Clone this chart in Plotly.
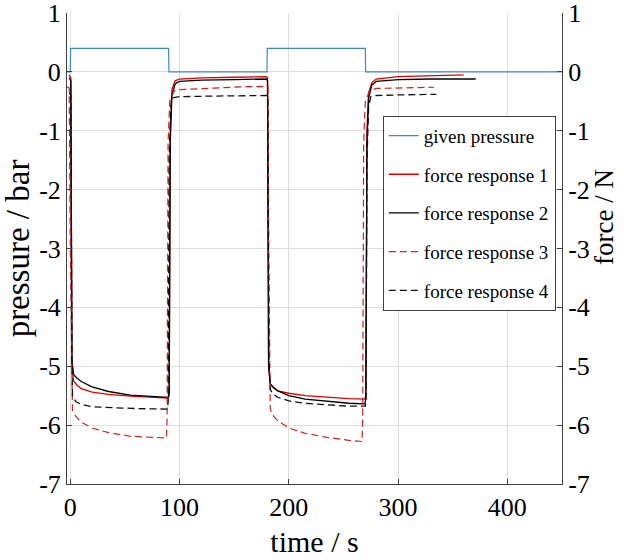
import plotly.graph_objects as go

# ---------------- data ----------------
t_pressure = [-3, 0, 0.3, 90, 90.3, 180, 180.3, 270, 270.3, 450]
given_pressure = [0, 0, 0.4, 0.4, 0, 0, 0.4, 0.4, 0, 0]

t_resp1 = [-1, 0.5, 1.5, 3, 6, 10, 20, 35, 55, 75, 89.5, 90.5, 91.5, 93, 96, 100, 120, 150,
           179.5, 180.5, 181.5, 183, 186, 190, 200, 215, 235, 255, 269.5, 270.5, 271.5, 273,
           276, 280, 300, 330, 360]
force_resp1 = [-0.05, -0.1, -5.0, -5.25, -5.32, -5.38, -5.44, -5.48, -5.51, -5.53, -5.54, -5.5,
               -1.0, -0.3, -0.15, -0.12, -0.1, -0.09, -0.08, -0.1, -5.0, -5.3, -5.37, -5.42,
               -5.46, -5.5, -5.53, -5.55, -5.56, -5.5, -1.0, -0.35, -0.18, -0.12, -0.08, -0.06,
               -0.05]

t_resp2 = [-1, 0.5, 1.5, 3, 6, 10, 20, 35, 55, 75, 89.5, 90.5, 91.5, 93, 96, 100, 120, 150,
           179.5, 180.5, 181.5, 183, 186, 190, 200, 215, 235, 255, 269.5, 270.5, 271.5, 273,
           276, 280, 300, 330, 371]
force_resp2 = [-0.1, -0.15, -4.9, -5.14, -5.2, -5.26, -5.35, -5.43, -5.49, -5.52, -5.53, -5.45,
               -1.2, -0.4, -0.2, -0.16, -0.14, -0.13, -0.12, -0.15, -5.0, -5.3, -5.36, -5.42,
               -5.5, -5.56, -5.6, -5.63, -5.64, -5.55, -1.2, -0.45, -0.22, -0.16, -0.13, -0.12,
               -0.12]

t_resp3 = [-3, -1, 0, 2, 5, 10, 20, 35, 55, 75, 88, 88.6, 89.5, 91, 95, 100, 130, 160,
           181, 181.6, 183, 186, 190, 200, 215, 235, 255, 267, 267.6, 268.5, 270, 274, 280,
           300, 333]
force_resp3 = [-0.25, -0.27, -3.0, -5.75, -5.85, -5.95, -6.05, -6.13, -6.19, -6.21, -6.22, -5.9,
               -1.2, -0.5, -0.32, -0.3, -0.27, -0.25, -0.25, -3.0, -5.73, -5.85, -5.93, -6.05,
               -6.14, -6.21, -6.26, -6.28, -5.9, -1.2, -0.5, -0.32, -0.28, -0.27, -0.26]

t_resp4 = [-1, 0.5, 1.5, 2, 5, 10, 20, 40, 60, 89, 89.6, 90.5, 92, 93, 100, 130, 160, 180,
           180.8, 181.8, 183, 186, 190, 200, 215, 235, 255, 270, 270.6, 271.5, 273, 275, 280,
           300, 335]
force_resp4 = [-0.35, -0.4, -4.8, -5.5, -5.6, -5.65, -5.69, -5.71, -5.72, -5.73, -5.6, -1.5,
               -0.6, -0.44, -0.42, -0.41, -0.4, -0.4, -0.42, -4.9, -5.4, -5.48, -5.53, -5.59,
               -5.63, -5.66, -5.68, -5.68, -5.6, -1.5, -0.6, -0.42, -0.4, -0.39, -0.38]

y_ticks = [1, 0, -1, -2, -3, -4, -5, -6, -7]
y_tick_labels = ["1", "0", "-1", "-2", "-3", "-4", "-5", "-6", "-7"]
x_ticks = [0, 100, 200, 300, 400]
x_tick_labels = ["0", "100", "200", "300", "400"]

# ---------------- figure ----------------
FONT = "Liberation Serif"
fig = go.Figure()

fig.add_trace(go.Scatter(x=t_pressure, y=given_pressure, mode="lines", name="given pressure",
                         line=dict(color="#3b8db8", width=1.2), legendgroup="g0"))
fig.add_trace(go.Scatter(x=t_resp1, y=force_resp1, mode="lines", name="force response 1",
                         line=dict(color="#e00000", width=1.3), yaxis="y2", legendgroup="g1"))
fig.add_trace(go.Scatter(x=t_resp2, y=force_resp2, mode="lines", name="force response 2",
                         line=dict(color="#000000", width=1.3), yaxis="y2", legendgroup="g2"))
fig.add_trace(go.Scatter(x=t_resp3, y=force_resp3, mode="lines", name="force response 3",
                         line=dict(color="#d42020", width=1.2, dash="7px,4px"), yaxis="y2",
                         legendgroup="g3"))
fig.add_trace(go.Scatter(x=t_resp4, y=force_resp4, mode="lines", name="force response 4",
                         line=dict(color="#111111", width=1.3, dash="7px,4px"), yaxis="y2",
                         legendgroup="g4"))

axis_common = dict(showline=True, linecolor="#404040", linewidth=1, ticks="inside", ticklen=5,
                   tickcolor="#404040", gridcolor="#dedede", gridwidth=1, zeroline=False,
                   automargin=False, ticklabeloverflow="allow",
                   tickfont=dict(family=FONT, size=26, color="#000000"))

fig.update_layout(
    width=630, height=560,
    margin=dict(l=67, r=68, t=13, b=76),
    paper_bgcolor="white", plot_bgcolor="white",
    font=dict(family=FONT, color="#000000"),
    showlegend=True,
    legend=dict(x=0.638, y=0.782, xanchor="left", yanchor="top",
                bgcolor="white", bordercolor="#404040", borderwidth=1,
                font=dict(family=FONT, size=19, color="#000000"),
                tracegroupgap=11, traceorder="grouped"),
    xaxis=dict(range=[-3, 450], tickvals=x_ticks, ticktext=x_tick_labels, showgrid=True,
               title=dict(text="time / s", font=dict(family=FONT, size=30), standoff=9),
               **axis_common),
    yaxis=dict(range=[-7.002, 1.002], tickvals=y_ticks, ticktext=y_tick_labels, showgrid=True,
               title=dict(text="pressure / bar", font=dict(family=FONT, size=33), standoff=4),
               **axis_common),
    yaxis2=dict(range=[-7.002, 1.002], tickvals=y_ticks, ticktext=y_tick_labels, showgrid=False,
                overlaying="y", side="right", **axis_common),
    annotations=[dict(text="force / N", textangle=-90, xref="paper", yref="paper",
                      x=1.0 + (604 - 562) / 495, y=(484 - 217) / 471,
                      xanchor="center", yanchor="middle", showarrow=False,
                      font=dict(family=FONT, size=27, color="#000000"))],
)

fig.write_html("out.html", config={"displayModeBar": False},
               post_script="document.body.style.margin='0';")
